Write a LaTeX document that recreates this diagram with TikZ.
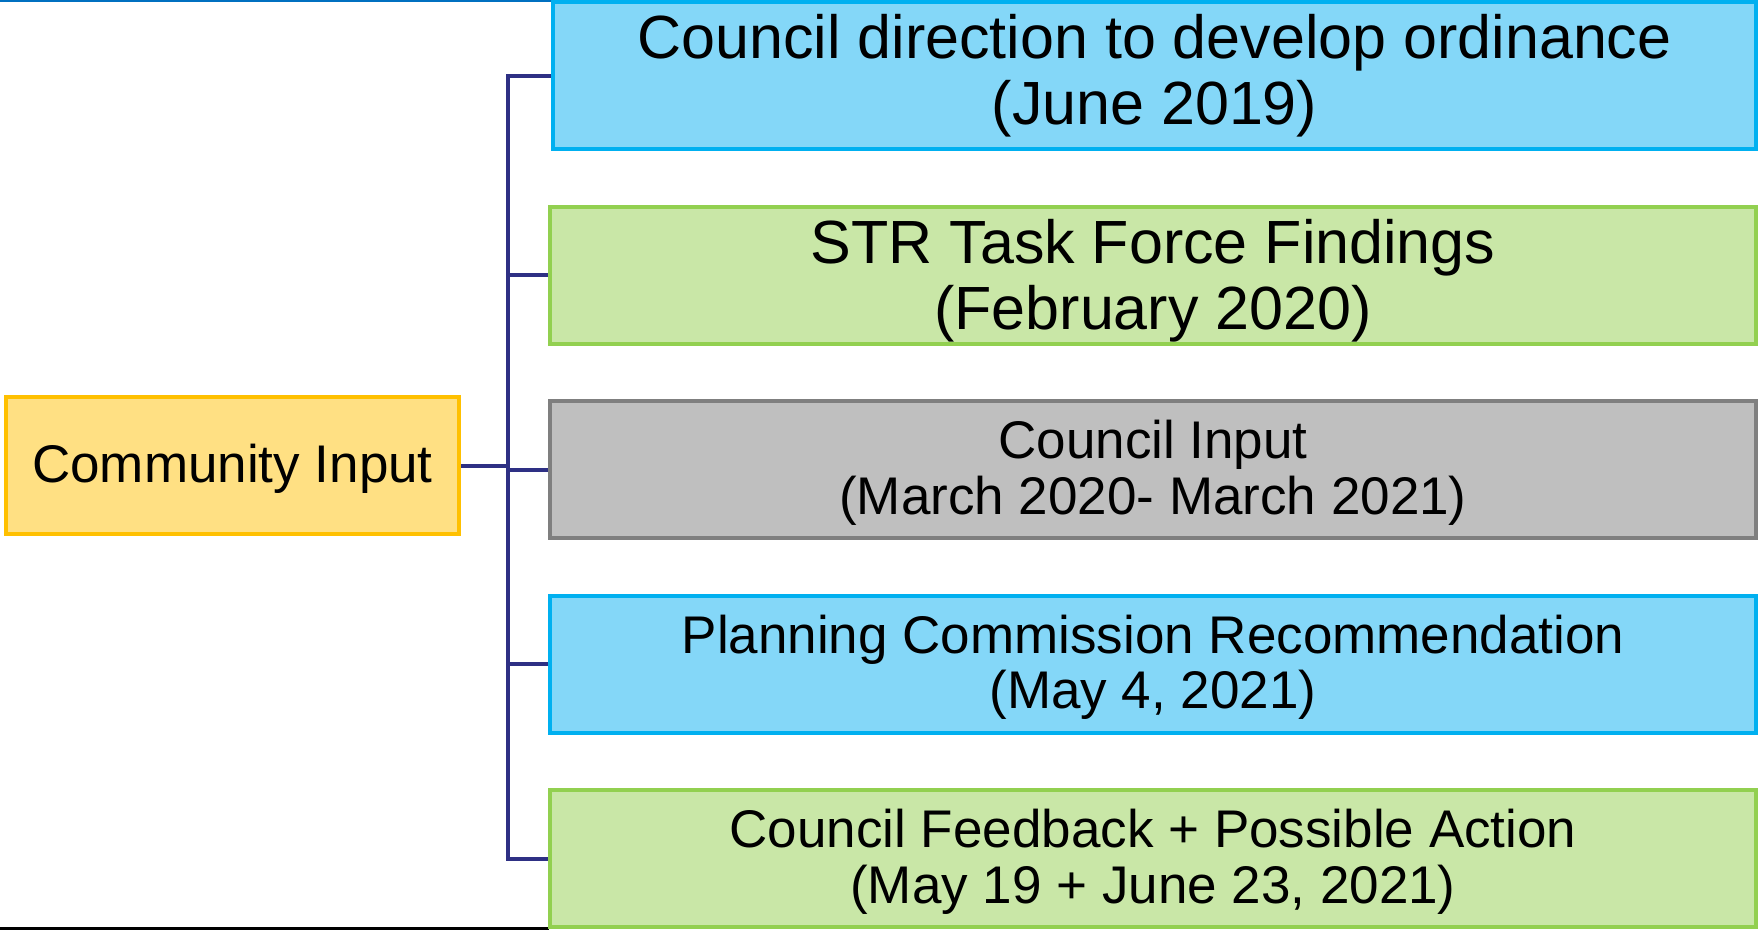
\documentclass[tikz,border=0pt]{standalone}
\usepackage{fontspec}
\setmainfont{Liberation Sans}
\definecolor{skyfill}{HTML}{84D7F8}
\definecolor{skyline}{HTML}{00B0F0}
\definecolor{leaffill}{HTML}{C9E7A7}
\definecolor{leafline}{HTML}{92D050}
\definecolor{greyfill}{HTML}{BFBFBF}
\definecolor{greyline}{HTML}{7F7F7F}
\definecolor{sunfill}{HTML}{FFE083}
\definecolor{sunline}{HTML}{FFC000}
\definecolor{navy}{HTML}{2E3084}
\definecolor{frameblue}{HTML}{0070C0}
% invisible strut that sets the height of a first text line
\newcommand\toppad[1]{\rule{0pt}{#1}}
\begin{document}
\begin{tikzpicture}[x=1pt,y=-1pt,
  box/.style={draw, rectangle, line width=4pt, inner sep=0pt, align=center, text=black},
  bigtext/.style={font=\fontsize{61}{66}\selectfont},
  smalltext/.style={font=\fontsize{53}{55.5}\selectfont},
  stage/.style={box, minimum width=1206pt, minimum height=137pt},
  sky/.style={fill=skyfill, draw=skyline},
  leaf/.style={fill=leaffill, draw=leafline},
  grey/.style={fill=greyfill, draw=greyline},
  sun/.style={fill=sunfill, draw=sunline},
  conn/.style={draw=navy, line width=4pt},
]
\useasboundingbox (0,0) rectangle (1758,930);

% frame lines along the top and bottom edges
\coordinate (ftl) at (0,1.2);
\coordinate (ftr) at (552,1.2);
\draw[frameblue, line width=2.4pt] (ftl) -- (ftr);
\coordinate (fbl) at (0,928.5);
\coordinate (fbr) at (549,928.5);
\draw[black, line width=2.6pt] (fbl) -- (fbr);

% stages
\node[box, sky, bigtext, minimum width=1203pt, minimum height=147pt] (b1) at (1154.5,75.5)
  {Council direction to develop ordinance\\(June 2019)};
\node[stage, leaf, bigtext] (b2) at (1153,275)
  {\toppad{55pt}STR Task Force Findings\\(February 2020)};
\node[stage, grey, smalltext] (b3) at (1153,469.5)
  {\toppad{45pt}Council Input\\(March 2020- March 2021)};
\node[stage, sky, smalltext] (b4) at (1153,664)
  {\toppad{45pt}Planning Commission Recommendation\\(May 4, 2021)};
\node[stage, leaf, smalltext] (b5) at (1153,858.5)
  {\toppad{45pt}Council Feedback + Possible Action\\(May 19 + June 23, 2021)};

% root
\node[box, sun, smalltext, minimum width=453pt, minimum height=137pt] (ci) at (232.5,465.5)
  {\toppad{44pt}Community Input};

% bracket connector
\coordinate (t1) at (508,75.5);
\coordinate (t5) at (508,858.5);
\draw[conn] (b1.west) -- (t1) -- (t5) -- (b5.west);
\draw[conn] (b2.west) -- (b2.west -| t1);
\draw[conn] (b3.west) -- (b3.west -| t1);
\draw[conn] (b4.west) -- (b4.west -| t1);
\draw[conn] (ci.east) -- (ci.east -| t1);
\end{tikzpicture}
\end{document}
